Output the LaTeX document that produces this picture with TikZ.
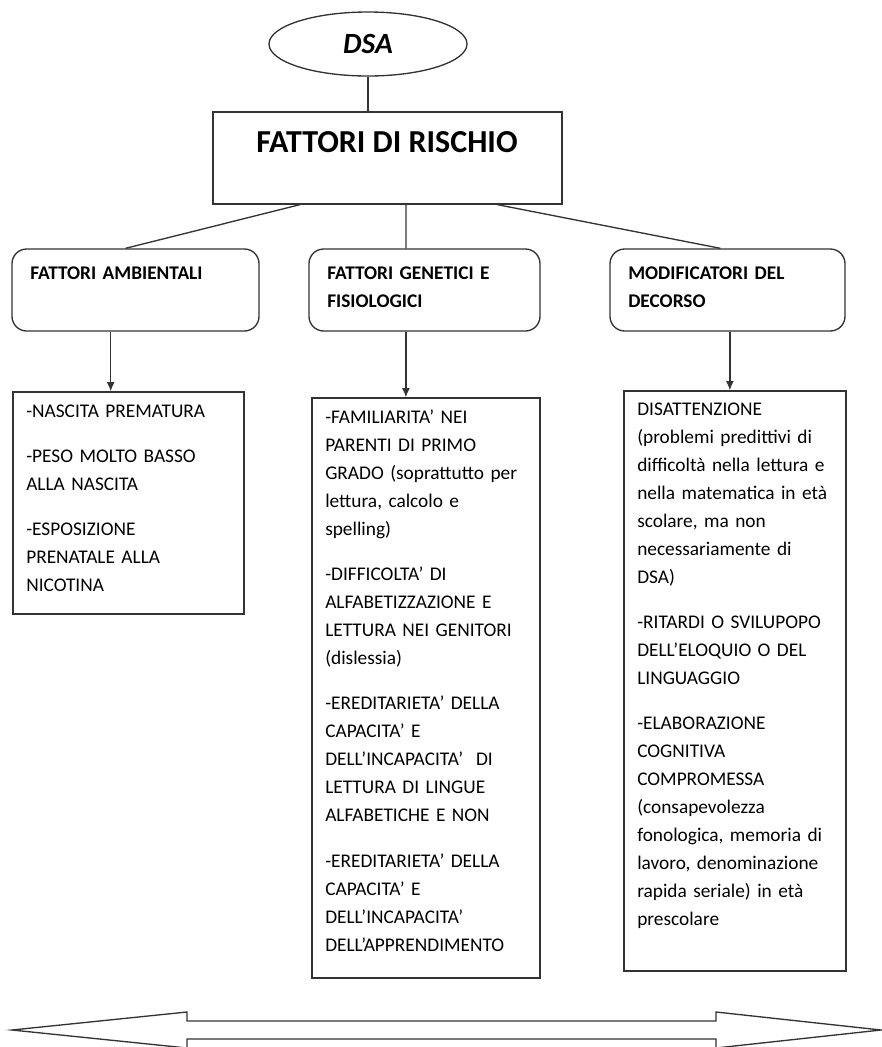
\documentclass[tikz,border=0pt]{standalone}
\usepackage{fontspec}
\setmainfont{Carlito}
\usetikzlibrary{arrows.meta,calc,positioning,shapes.geometric}
\definecolor{linegray}{gray}{0.2}

\begin{document}
\begin{tikzpicture}[x=0.75pt,y=-0.75pt,>={Latex[length=7pt,width=6pt]},
  line/.style={draw=linegray,line width=1pt},
  box/.style={line,rectangle,inner sep=0pt},
  headbox/.style={box,rounded corners=11pt},
  head/.style={anchor=base west,inner sep=0pt,text width=170pt,align=left,
    font=\fontsize{14.5}{21}\selectfont\bfseries},
  body/.style={anchor=base west,inner sep=0pt,text width=160pt,align=left,
    font=\fontsize{14.5}{21}\selectfont}]
\useasboundingbox (0,0) rectangle (882,1047);

\node[line,ellipse,inner sep=0pt,minimum width=148.5pt,minimum height=48pt,
  font=\fontsize{22}{26}\selectfont\bfseries\itshape] (dsa) at (368,44) {DSA};
\node[box,minimum width=261.75pt,minimum height=69pt] (risk) at (387.5,158) {};
\node[font=\fontsize{24}{28}\selectfont\bfseries] (risklbl) at (387,142) {FATTORI DI RISCHIO};

\node[headbox,minimum width=185.25pt,minimum height=61.5pt] (amb) at (135.5,290) {};
\node[headbox,minimum width=173.25pt,minimum height=61.5pt] (gen) at (424.5,290) {};
\node[headbox,minimum width=176.25pt,minimum height=61.5pt] (mod) at (727.5,290) {};
\node[head] (ambt) at (30,279) {FATTORI AMBIENTALI};
\node[head] (gent) at (327,279) {FATTORI GENETICI E\\FISIOLOGICI};
\node[head] (modt) at (628,279) {MODIFICATORI DEL\\DECORSO};

\node[box,minimum width=173.25pt,minimum height=166.5pt] (ambl) at (128.5,503) {};
\node[box,minimum width=171pt,minimum height=435pt] (genl) at (426,688) {};
\node[box,minimum width=166.5pt,minimum height=435pt] (modl) at (735,681) {};

\node[body] (ambtxt) at (26,417) {-NASCITA PREMATURA\\[13pt]
  -PESO MOLTO BASSO\\ALLA NASCITA\\[13pt]
  -ESPOSIZIONE\\PRENATALE ALLA\\NICOTINA};
\node[body] (gentxt) at (325,423) {-FAMILIARITA’ NEI\\PARENTI DI PRIMO\\GRADO (soprattutto per\\lettura, calcolo e\\spelling)\\[13pt]
  -DIFFICOLTA’ DI\\ALFABETIZZAZIONE E\\LETTURA NEI GENITORI\\(dislessia)\\[13pt]
  -EREDITARIETA’ DELLA\\CAPACITA’ E\\DELL’INCAPACITA’~~DI\\LETTURA DI LINGUE\\ALFABETICHE E NON\\[13pt]
  -EREDITARIETA’ DELLA\\CAPACITA’ E\\DELL’INCAPACITA’\\DELL’APPRENDIMENTO};
\node[body] (modtxt) at (637,415) {DISATTENZIONE\\(problemi predittivi di\\difficoltà nella lettura e\\nella matematica in età\\scolare, ma non\\necessariamente di\\DSA)\\[13pt]
  -RITARDI O SVILUPOPO\\DELL’ELOQUIO O DEL\\LINGUAGGIO\\[13pt]
  -ELABORAZIONE\\COGNITIVA\\COMPROMESSA\\(consapevolezza\\fonologica, memoria di\\lavoro, denominazione\\rapida seriale) in età\\prescolare};

\draw[line] (dsa.south) -- (dsa.south |- risk.north);
\draw[line] ($(risk.south west)!0.25!(risk.south east)$) -- ($(amb.north west)!0.46!(amb.north east)$);
\draw[line] ($(risk.south west)!0.553!(risk.south east)$) -- ($(gen.north west)!0.42!(gen.north east)$);
\draw[line] ($(risk.south west)!0.814!(risk.south east)$) -- ($(mod.north west)!0.47!(mod.north east)$);
\foreach \a/\b/\f in {amb/ambl/0.4,gen/genl/0.42,mod/modl/0.51}
  \draw[line,->] ($(\a.south west)!\f!(\a.south east)$) coordinate (t) -- (t |- \b.north);

\draw[line] (12,1030) -- (187,1012) -- (187,1021) -- (716,1021) -- (716,1012) -- (881,1030)
  -- (716,1048) -- (716,1039) -- (187,1039) -- (187,1048) -- cycle;
\end{tikzpicture}
\end{document}
